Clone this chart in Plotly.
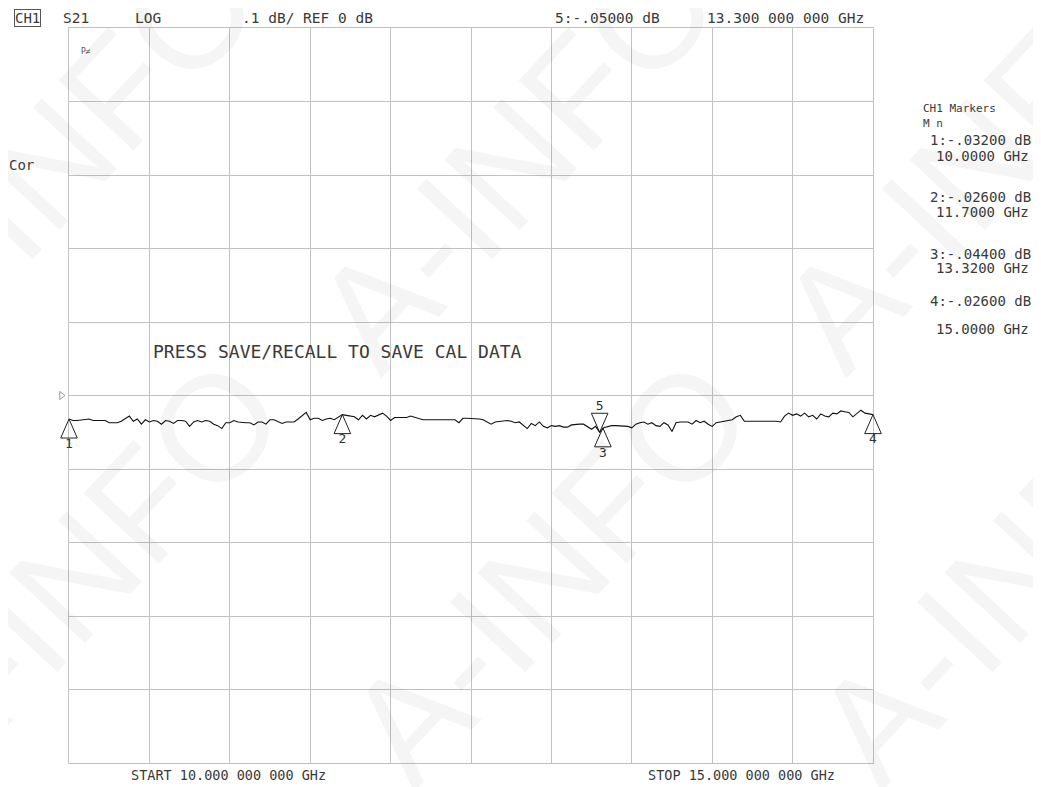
import numpy as np
import plotly.graph_objects as go

# ---------------- data ----------------
START_GHZ = 10.0
STOP_GHZ = 15.0
N_POINTS = 201
REF_DB = 0.0
SCALE_DB_PER_DIV = 0.1
N_DIV = 10

s21_db = [
    -0.032, -0.034, -0.034, -0.033, -0.033, -0.032, -0.034, -0.034, -0.035, -0.034,
    -0.037, -0.037, -0.037, -0.035, -0.032, -0.028, -0.035, -0.032, -0.039, -0.033,
    -0.036, -0.034, -0.035, -0.039, -0.034, -0.035, -0.038, -0.034, -0.034, -0.035,
    -0.042, -0.036, -0.034, -0.036, -0.034, -0.035, -0.039, -0.041, -0.045, -0.037,
    -0.037, -0.034, -0.036, -0.037, -0.037, -0.037, -0.040, -0.036, -0.036, -0.039,
    -0.033, -0.033, -0.035, -0.038, -0.036, -0.036, -0.036, -0.032, -0.028, -0.023,
    -0.033, -0.031, -0.031, -0.034, -0.032, -0.031, -0.033, -0.029, -0.026, -0.027,
    -0.028, -0.029, -0.033, -0.027, -0.032, -0.027, -0.029, -0.027, -0.024, -0.028,
    -0.034, -0.030, -0.030, -0.029, -0.030, -0.028, -0.030, -0.032, -0.033, -0.033,
    -0.033, -0.032, -0.033, -0.033, -0.032, -0.033, -0.033, -0.037, -0.031, -0.031,
    -0.031, -0.032, -0.032, -0.033, -0.036, -0.039, -0.036, -0.035, -0.034, -0.034,
    -0.035, -0.037, -0.036, -0.040, -0.045, -0.038, -0.041, -0.036, -0.042, -0.044,
    -0.041, -0.042, -0.041, -0.043, -0.043, -0.040, -0.039, -0.039, -0.039, -0.042,
    -0.046, -0.042, -0.050, -0.044, -0.042, -0.041, -0.041, -0.041, -0.042, -0.042,
    -0.044, -0.039, -0.037, -0.036, -0.039, -0.037, -0.041, -0.042, -0.037, -0.040,
    -0.049, -0.037, -0.036, -0.036, -0.036, -0.039, -0.034, -0.037, -0.035, -0.039,
    -0.042, -0.037, -0.036, -0.035, -0.033, -0.033, -0.029, -0.027, -0.035, -0.035,
    -0.034, -0.035, -0.035, -0.035, -0.035, -0.035, -0.035, -0.036, -0.028, -0.024,
    -0.027, -0.025, -0.028, -0.024, -0.029, -0.027, -0.032, -0.025, -0.028, -0.029,
    -0.024, -0.025, -0.021, -0.022, -0.023, -0.029, -0.024, -0.020, -0.024, -0.025,
    -0.026,
]

marker_ids = ["1", "2", "3", "4"]
marker_freq_ghz = [10.0, 11.7, 13.32, 15.0]
marker_db = [-0.032, -0.026, -0.044, -0.026]
marker_db_text = ["1:-.03200 dB", "2:-.02600 dB", "3:-.04400 dB", "4:-.02600 dB"]
marker_freq_text = ["10.0000 GHz", "11.7000 GHz", "13.3200 GHz", "15.0000 GHz"]

active_id = ["5"]
active_freq_ghz = [13.3]
active_db = [-0.05]

header_texts = ["S21", "LOG", ".1 dB/ REF 0 dB", "5:-.05000 dB", "13.300 000 000 GHz"]
start_text = "START 10.000 000 000 GHz"
stop_text = "STOP 15.000 000 000 GHz"
message_text = "PRESS SAVE/RECALL TO SAVE CAL DATA"
watermark_text = "A-INFO"

# ---------------- geometry (pixels of the target page) ----------------
OFF = 8                                  # page body margin
W, H = 1041 - OFF, 787 - OFF             # figure size
PL, PR, PT, PB = 69, 873, 28, 763        # grid area (page pixels)
OL, OR = 55, 887                         # wider overlay area (page pixels)
px_per_ghz = (PR - PL) / (STOP_GHZ - START_GHZ)
px_per_db = (PB - PT) / (N_DIV * SCALE_DB_PER_DIV)


def pxp(x):
    return (x - OL) / (OR - OL)


def pyp(y):
    return (PB - y) / (PB - PT)


freq = np.linspace(START_GHZ, STOP_GHZ, N_POINTS)

fig = go.Figure()

fig.add_trace(go.Scatter(x=freq, y=s21_db, mode="lines",
                         line=dict(color="#111111", width=1.1),
                         xaxis="x", yaxis="y", hoverinfo="skip"))

TRI_HW = 8.3 / px_per_ghz
TRI_H = 19 / px_per_db
tx, ty = [], []
for f, v in zip(marker_freq_ghz, marker_db):
    tx += [f, f + TRI_HW, f - TRI_HW, f, None]
    ty += [v, v - TRI_H, v - TRI_H, v, None]
for f, v in zip(active_freq_ghz, active_db):
    tx += [f, f + TRI_HW, f - TRI_HW, f, None]
    ty += [v, v + TRI_H, v + TRI_H, v, None]
fig.add_trace(go.Scatter(x=tx, y=ty, mode="lines",
                         line=dict(color="#222222", width=1),
                         xaxis="x2", yaxis="y2", hoverinfo="skip"))

fig.add_trace(go.Scatter(x=marker_freq_ghz, y=[v - TRI_H for v in marker_db],
                         mode="text", text=marker_ids, textposition="bottom center",
                         textfont=dict(family="DejaVu Sans Mono", size=13, color="#333333"),
                         cliponaxis=False, xaxis="x2", yaxis="y2", hoverinfo="skip"))
fig.add_trace(go.Scatter(x=active_freq_ghz, y=[v + TRI_H for v in active_db],
                         mode="text", text=active_id, textposition="top center",
                         textfont=dict(family="DejaVu Sans Mono", size=13, color="#333333"),
                         cliponaxis=False, xaxis="x2", yaxis="y2", hoverinfo="skip"))

fig.add_trace(go.Scatter(x=[START_GHZ - 7.5 / px_per_ghz], y=[REF_DB], mode="markers",
                         marker=dict(symbol="triangle-right-open", size=7,
                                     color="#999999", line=dict(width=1)),
                         cliponaxis=False, xaxis="x2", yaxis="y2", hoverinfo="skip"))

GRID = "#c2c2c2"
yr = [REF_DB - N_DIV / 2 * SCALE_DB_PER_DIV, REF_DB + N_DIV / 2 * SCALE_DB_PER_DIV]

fig.update_layout(
    width=W, height=H,
    margin=dict(l=OL - OFF, r=W - (OR - OFF), t=PT - OFF, b=H - (PB - OFF), autoexpand=False),
    paper_bgcolor="white", plot_bgcolor="rgba(0,0,0,0)",
    showlegend=False, hovermode=False,
    xaxis=dict(domain=[pxp(PL), pxp(PR)], range=[START_GHZ, STOP_GHZ],
               dtick=(STOP_GHZ - START_GHZ) / N_DIV, tick0=START_GHZ,
               showgrid=True, gridcolor=GRID, gridwidth=1, zeroline=False,
               showline=True, linecolor=GRID, linewidth=1, mirror=True,
               showticklabels=False, ticks="", anchor="y"),
    yaxis=dict(range=yr, dtick=SCALE_DB_PER_DIV, tick0=REF_DB,
               showgrid=True, gridcolor=GRID, gridwidth=1, zeroline=False,
               showline=True, linecolor=GRID, linewidth=1, mirror=True,
               showticklabels=False, ticks="", anchor="x"),
    xaxis2=dict(domain=[0, 1],
                range=[START_GHZ - (PL - OL) / px_per_ghz, STOP_GHZ + (OR - PR) / px_per_ghz],
                visible=False, showgrid=False, zeroline=False, anchor="y2"),
    yaxis2=dict(range=yr, visible=False, showgrid=False, zeroline=False, anchor="x2"),
)

TXT = "#3a3a3a"
MONO = "DejaVu Sans Mono"


def add_text(text, x, y, size=14, color=TXT, xanchor="center", **kw):
    fig.add_annotation(text=text, x=pxp(x), y=pyp(y), xref="paper", yref="paper",
                       showarrow=False, xanchor=xanchor, yanchor="middle",
                       font=dict(family=MONO, size=size, color=color), **kw)


# faint watermark
for cx, cy in [(56, 158), (516, 158), (981, 158), (81, 571), (549, 571), (1016, 571)]:
    fig.add_annotation(text=watermark_text, x=pxp(cx), y=pyp(cy), xref="paper", yref="paper",
                       showarrow=False, xanchor="center", yanchor="middle", textangle=-47,
                       font=dict(family="Liberation Sans", size=150, color="rgba(0,0,0,0.038)"))

# header line
add_text("CH1", 27, 18, size=14, bordercolor="#555555", borderwidth=1, borderpad=0)
for t, cx in zip(header_texts, [76, 148, 307, 607, 785]):
    add_text(t, cx, 18, size=14.5)

add_text("Cor", 21, 165, size=14)
add_text("P≠", 86, 52, size=8, color="#555555")

add_text(message_text, 337, 351, size=18)
add_text(start_text, 228, 775, size=13.5)
add_text(stop_text, 741, 775, size=13.5)

# right marker panel
add_text("CH1 Markers", 921, 109, size=11, xanchor="left")
add_text("M n", 921, 123, size=11, xanchor="left")
db_y = [140, 197, 254, 301]
fr_y = [156, 212, 268, 329]
for t, y in zip(marker_db_text, db_y):
    add_text(t, 980, y, size=14)
for t, y in zip(marker_freq_text, fr_y):
    add_text(t, 982, y, size=14)

fig.write_html("out.html")
